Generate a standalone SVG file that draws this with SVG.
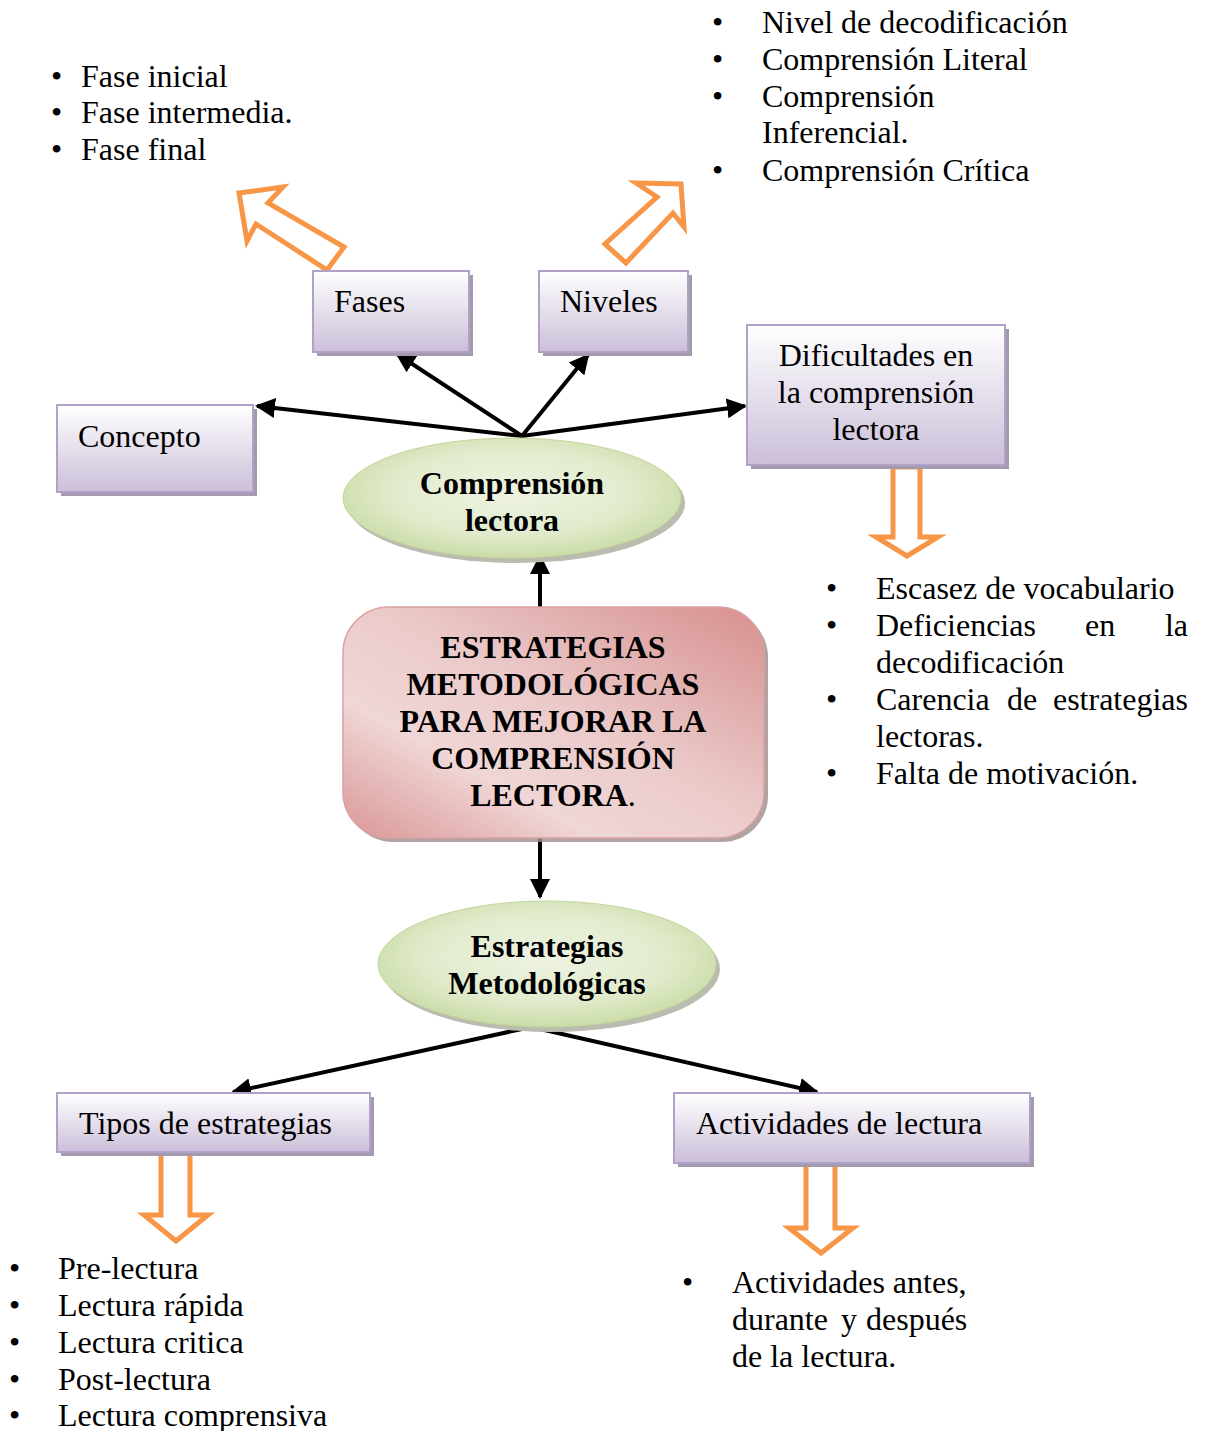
<svg xmlns="http://www.w3.org/2000/svg" width="1208" height="1431" viewBox="0 0 1208 1431">
<defs>
<linearGradient id="boxG" x1="0" y1="0" x2="0" y2="1">
<stop offset="0" stop-color="#ffffff"/>
<stop offset="1" stop-color="#cbbfd9"/>
</linearGradient>
<radialGradient id="ellG" cx="0.5" cy="0.45" r="0.6">
<stop offset="0" stop-color="#eef3e2"/>
<stop offset="0.6" stop-color="#e1ebcc"/>
<stop offset="1" stop-color="#c5d89f"/>
</radialGradient>
<linearGradient id="mainG" x1="0" y1="1" x2="1" y2="0">
<stop offset="0" stop-color="#d99695"/>
<stop offset="0.3" stop-color="#f0d6d6"/>
<stop offset="0.55" stop-color="#ebc9c9"/>
<stop offset="0.8" stop-color="#dfa9a8"/>
<stop offset="1" stop-color="#d88f8e"/>
</linearGradient>
<marker id="ah" viewBox="0 0 10 10" refX="9" refY="5" markerWidth="5" markerHeight="5" orient="auto" markerUnits="strokeWidth">
<path d="M0,0 L10,5 L0,10 z" fill="#000"/>
</marker>
<style>
text{font-family:"Liberation Serif","Times New Roman",serif;font-size:32px;fill:#000}
.b{font-weight:bold}
.box{fill:url(#boxG);stroke:#b2a1c7;stroke-width:2}
.sh{fill:#a39bad}
.ell{fill:url(#ellG);stroke:#c3d69b;stroke-width:1}
.esh{fill:#b9bcae}
.con{stroke:#000;stroke-width:4;fill:none;marker-end:url(#ah)}
.oa{fill:#fff;stroke:#f79646;stroke-width:5;stroke-linejoin:miter}
</style>
</defs>

<g id="connectors">
<line class="con" x1="540" y1="607" x2="540" y2="556"/>
<line class="con" x1="540" y1="834" x2="540" y2="897"/>
<line class="con" x1="522" y1="436" x2="257" y2="406"/>
<line class="con" x1="522" y1="436" x2="397" y2="354"/>
<line class="con" x1="522" y1="436" x2="588" y2="355"/>
<line class="con" x1="522" y1="436" x2="745" y2="406"/>
<line class="con" x1="522" y1="1029" x2="233" y2="1092"/>
<line class="con" x1="540" y1="1029" x2="817" y2="1092"/>
</g>

<g id="orange-arrows">
<polygon class="oa" points="239,193 283,187 268,203 344,247 327,270 256,224 247,241"/>
<polygon class="oa" points="681,184 636,183 657,197 605,244 626,263 673,213 684,227"/>
<polygon class="oa" points="893,467 920,467 920,537 938,537 907,556 876,537 893,537"/>
<polygon class="oa" points="161,1150 190,1150 190,1215 208,1215 176,1241 144,1215 161,1215"/>
<polygon class="oa" points="806,1164 835,1164 835,1228 853,1228 821,1253 789,1228 806,1228"/>
</g>

<g id="fases">
<rect class="sh" x="317" y="275" width="156" height="81"/>
<rect class="box" x="313" y="271" width="156" height="81"/>
<text x="334" y="312">Fases</text>
</g>
<g id="niveles">
<rect class="sh" x="543" y="275" width="149" height="81"/>
<rect class="box" x="539" y="271" width="149" height="81"/>
<text x="560" y="312">Niveles</text>
</g>
<g id="concepto">
<rect class="sh" x="61" y="409" width="196" height="87"/>
<rect class="box" x="57" y="405" width="196" height="87"/>
<text x="78" y="447">Concepto</text>
</g>
<g id="dificultades">
<rect class="sh" x="751" y="329" width="258" height="140"/>
<rect class="box" x="747" y="325" width="258" height="140"/>
<text x="876" y="366" text-anchor="middle">Dificultades en</text>
<text x="876" y="403" text-anchor="middle">la comprensión</text>
<text x="876" y="440" text-anchor="middle">lectora</text>
</g>

<g id="comprension-lectora">
<ellipse class="esh" cx="516" cy="503" rx="169" ry="60"/>
<ellipse class="ell" cx="512" cy="498" rx="169" ry="60"/>
<text class="b" x="512" y="494" text-anchor="middle">Comprensión</text>
<text class="b" x="512" y="531" text-anchor="middle">lectora</text>
</g>

<g id="estrategias-main">
<rect x="347" y="611" width="421" height="231" rx="46" fill="#9d8c8c" opacity="0.8"/>
<rect x="343" y="607" width="421" height="231" rx="46" fill="url(#mainG)" stroke="#d9a1a0" stroke-width="1.5"/>
<text class="b" x="553" y="658" text-anchor="middle">ESTRATEGIAS</text>
<text class="b" x="553" y="695" text-anchor="middle">METODOLÓGICAS</text>
<text class="b" x="553" y="732" text-anchor="middle">PARA MEJORAR LA</text>
<text class="b" x="553" y="769" text-anchor="middle">COMPRENSIÓN</text>
<text x="553" y="806" text-anchor="middle"><tspan class="b">LECTORA</tspan>.</text>
</g>

<g id="estrategias-metodologicas">
<ellipse class="esh" cx="551" cy="969" rx="169" ry="63"/>
<ellipse class="ell" cx="547" cy="964" rx="169" ry="63"/>
<text class="b" x="547" y="957" text-anchor="middle">Estrategias</text>
<text class="b" x="547" y="994" text-anchor="middle">Metodológicas</text>
</g>

<g id="tipos">
<rect class="sh" x="61" y="1097" width="313" height="59"/>
<rect class="box" x="57" y="1093" width="313" height="59"/>
<text x="79" y="1134">Tipos de estrategias</text>
</g>
<g id="actividades">
<rect class="sh" x="678" y="1097" width="356" height="70"/>
<rect class="box" x="674" y="1093" width="356" height="70"/>
<text x="696" y="1134">Actividades de lectura</text>
</g>

<g id="list-fases">
<text x="51" y="87">•</text><text x="81" y="87">Fase inicial</text>
<text x="51" y="123">•</text><text x="81" y="123">Fase intermedia.</text>
<text x="51" y="160">•</text><text x="81" y="160">Fase final</text>
</g>
<g id="list-niveles">
<text x="712" y="33">•</text><text x="762" y="33">Nivel de decodificación</text>
<text x="712" y="70">•</text><text x="762" y="70">Comprensión Literal</text>
<text x="712" y="107">•</text><text x="762" y="107">Comprensión</text>
<text x="762" y="143">Inferencial.</text>
<text x="712" y="181">•</text><text x="762" y="181">Comprensión Crítica</text>
</g>
<g id="list-dificultades">
<text x="826" y="599">•</text><text x="876" y="599">Escasez de vocabulario</text>
<text x="826" y="636">•</text><text x="876" y="636">Deficiencias</text><text x="1085" y="636">en</text><text x="1188" y="636" text-anchor="end">la</text>
<text x="876" y="673">decodificación</text>
<text x="826" y="710">•</text><text x="876" y="710">Carencia</text><text x="1022" y="710" text-anchor="middle">de</text><text x="1188" y="710" text-anchor="end">estrategias</text>
<text x="876" y="747">lectoras.</text>
<text x="826" y="784">•</text><text x="876" y="784">Falta de motivación.</text>
</g>
<g id="list-tipos">
<text x="9" y="1279">•</text><text x="58" y="1279">Pre-lectura</text>
<text x="9" y="1316">•</text><text x="58" y="1316">Lectura rápida</text>
<text x="9" y="1353">•</text><text x="58" y="1353">Lectura critica</text>
<text x="9" y="1390">•</text><text x="58" y="1390">Post-lectura</text>
<text x="9" y="1426">•</text><text x="58" y="1426">Lectura comprensiva</text>
</g>
<g id="list-actividades">
<text x="682" y="1293">•</text><text x="732" y="1293">Actividades antes,</text>
<text x="732" y="1330">durante</text><text x="841" y="1330">y</text><text x="866" y="1330">después</text>
<text x="732" y="1367">de la lectura.</text>
</g>
</svg>
